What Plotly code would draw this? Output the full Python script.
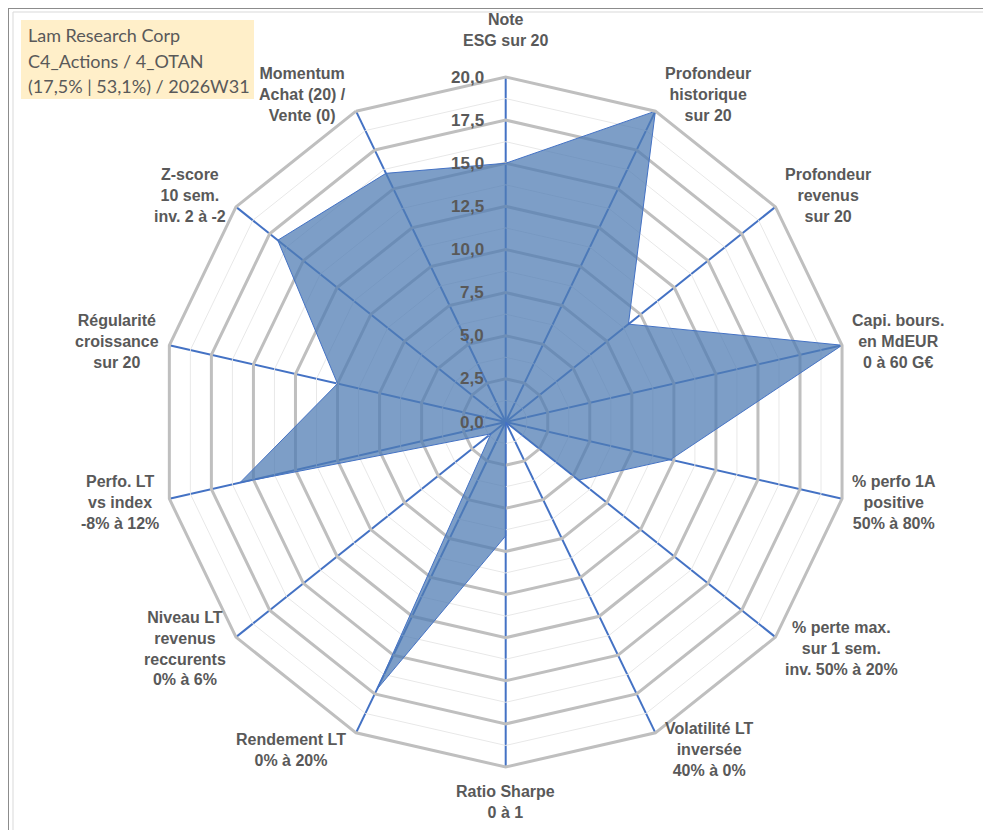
import math
import plotly.graph_objects as go

# Axes of the radar, clockwise from the top
categories = [
    "Note<br>ESG sur 20",
    "Profondeur<br>historique<br>sur 20",
    "Profondeur<br>revenus<br>sur 20",
    "Capi. bours.<br>en MdEUR<br>0 à 60 G€",
    "% perfo 1A<br>positive<br>50% à 80%",
    "% perte max.<br>sur 1 sem.<br>inv. 50% à 20%",
    "Volatilité LT<br>inversée<br>40% à 0%",
    "Ratio Sharpe<br>0 à 1",
    "Rendement LT<br>0% à 20%",
    "Niveau LT<br>revenus<br>reccurents<br>0% à 6%",
    "Perfo. LT<br>vs index<br>-8% à 12%",
    "Régularité<br>croissance<br>sur 20",
    "Z-score<br>10 sem.<br>inv. 2 à -2",
    "Momentum<br>Achat (20) /<br>Vente (0)",
]
scores = [15.0, 20.0, 9.1, 20.0, 9.8, 5.4, 0.0, 6.6, 17.2, 1.1, 15.8, 10.0, 16.9, 16.0]

radial_ticks = [0, 2.5, 5, 7.5, 10, 12.5, 15, 17.5, 20]
r_max = 20
title_lines = ["Lam Research Corp", "C4_Actions / 4_OTAN", "(17,5% | 53,1%) / 2026W31"]

W, H = 991, 830
cx, cy, rad = 497.7, 414, 345

fig = go.Figure()

# thin minor rings between the major ones
for k in range(len(radial_ticks) - 1):
    rm = (radial_ticks[k] + radial_ticks[k + 1]) / 2
    fig.add_trace(go.Scatterpolar(
        r=[rm] * (len(categories) + 1),
        theta=categories + categories[:1],
        mode="lines",
        line=dict(color="#E8E8E8", width=1),
        hoverinfo="skip",
        showlegend=False,
    ))

fig.add_trace(go.Scatterpolar(
    r=scores + scores[:1],
    theta=categories + categories[:1],
    mode="lines",
    fill="toself",
    fillcolor="rgba(79,124,180,0.74)",
    line=dict(color="#4472C4", width=1),
    showlegend=False,
))

fig.update_layout(
    width=W, height=H,
    margin=dict(l=0, r=0, t=0, b=0),
    paper_bgcolor="white",
    showlegend=False,
    polar=dict(
        domain=dict(x=[(cx - rad) / W, (cx + rad) / W],
                    y=[(H - cy - rad) / H, (H - cy + rad) / H]),
        bgcolor="white",
        gridshape="linear",
        angularaxis=dict(
            direction="clockwise",
            rotation=90,
            showgrid=True,
            gridcolor="#4472C4",
            gridwidth=1.6,
            showline=True,
            linecolor="#BFBFBF",
            linewidth=3,
            ticks="",
            showticklabels=False,
        ),
        radialaxis=dict(
            range=[0, r_max],
            angle=90,
            tickvals=radial_ticks,
            showticklabels=False,
            showline=False,
            ticks="",
            gridcolor="#BFBFBF",
            gridwidth=3,
        ),
    ),
)

lab_font = dict(family="Liberation Sans, Arial", size=16, color="#595959", weight="bold")

# radial value labels, left of the top spoke
for v in radial_ticks:
    fig.add_annotation(xref="paper", yref="paper", x=(cx - 20) / W, y=1 - (cy - rad * v / r_max) / H,
                       xanchor="right", yanchor="middle", showarrow=False,
                       text=f"{v:.1f}".replace(".", ","),
                       font=dict(family="Liberation Sans, Arial", size=17, color="#595959", weight="bold"))

# category labels around the polygon, Excel-style placement
n = len(categories)
rx, ry = rad, 350
for i, cat in enumerate(categories):
    a = math.radians(i * 360 / n)
    s, c = math.sin(a), math.cos(a)
    vx = cx + rx * s
    vy = cy - ry * c
    if abs(s) < 0.1:
        px, py = vx, (vy - 21 if c > 0 else vy + 9)
        xa, ya = "center", ("bottom" if c > 0 else "top")
    else:
        px = vx + (8 if s > 0 else -8)
        py = vy - 14 * c
        xa, ya = ("left" if s > 0 else "right"), "middle"
    fig.add_annotation(xref="paper", yref="paper", x=px / W, y=1 - py / H,
                       xanchor=xa, yanchor=ya, align="center", showarrow=False, text=cat,
                       font=lab_font)

# title box top-left
fig.add_shape(type="rect", xref="paper", yref="paper",
              x0=13 / W, x1=246 / W, y0=1 - 12 / H, y1=1 - 91 / H,
              fillcolor="#FFEFC9", line=dict(width=0), layer="below")
for i, line in enumerate(title_lines):
    fig.add_annotation(xref="paper", yref="paper", x=18 / W, y=1 - (27 + 25.5 * i) / H,
                       xanchor="left", yanchor="middle", showarrow=False, text=line,
                       font=dict(family="Lato, Open Sans", size=18, color="#595959"))

# chart frame
fig.add_shape(type="rect", xref="paper", yref="paper", x0=0, x1=1, y0=0, y1=1,
              line=dict(color="#8C8C8C", width=2))
fig.add_shape(type="rect", xref="paper", yref="paper",
              x0=5 / W, x1=978 / W, y0=1 - 4 / H, y1=1 - 826 / H,
              line=dict(color="#D9D9D9", width=1))

fig.write_html("out.html")
